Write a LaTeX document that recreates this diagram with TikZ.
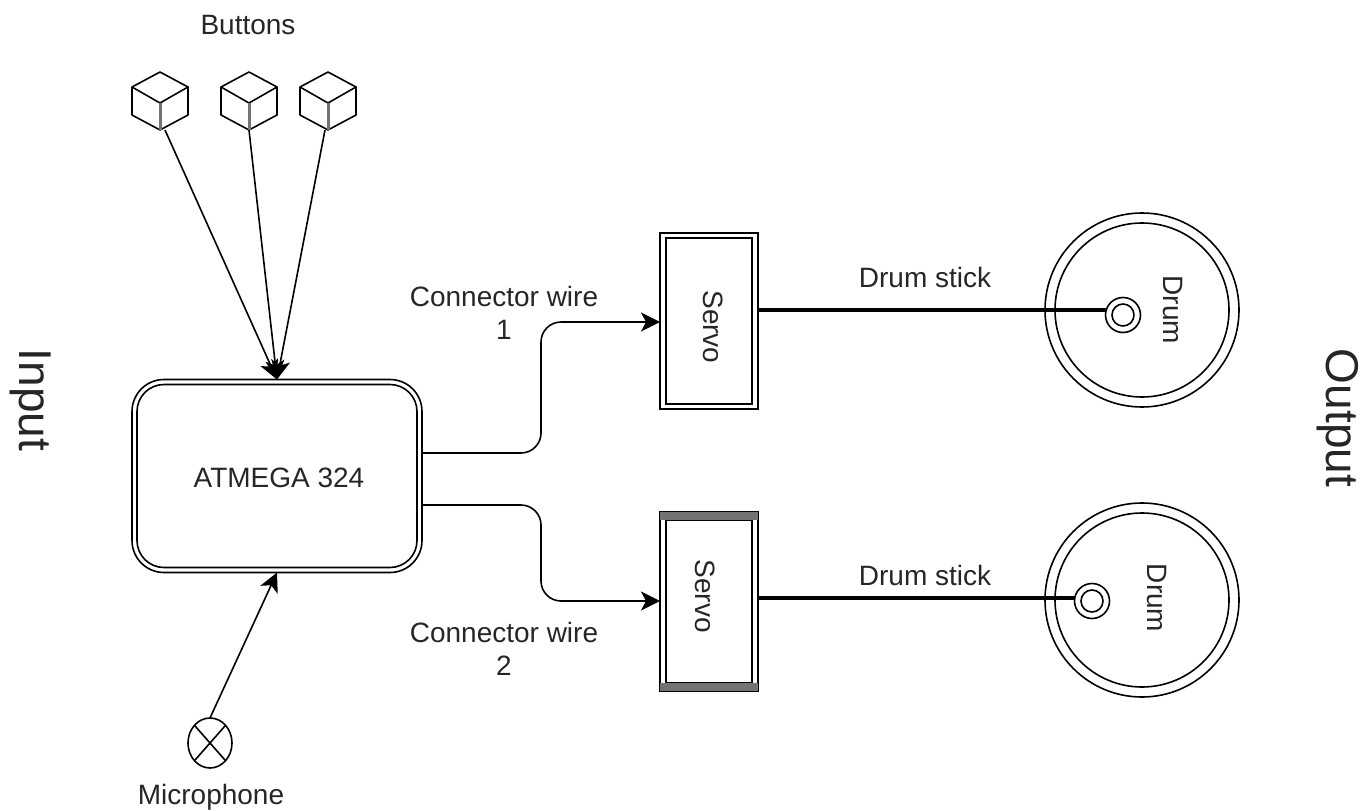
\documentclass[tikz,border=0pt]{standalone}
\usepackage{fontspec}
\setmainfont{Liberation Sans}
\usetikzlibrary{arrows.meta,shapes.geometric}
\tikzset{
  x=1pt,y=-1pt,
  every node/.style={inner sep=0pt,outer sep=0pt,text=black!85},
  ln/.style={draw=black,line width=1.6pt},
  wire/.style={ln,-{Stealth[length=19pt,width=19pt,inset=5pt]}},
  stick/.style={draw=black,line width=3.4pt},
  lbl/.style={font=\fontsize{28}{30}\selectfont,align=center},
  vlbl/.style={font=\fontsize{28}{30}\selectfont,rotate=-90},
  big/.style={font=\fontsize{46}{50}\selectfont,rotate=-90},
  cube/.style={minimum width=56pt,minimum height=58pt},
  ring/.style={circle,ln,fill=white},
}
\newcommand{\cubefaces}[1]{%
  \draw[ln,line join=round] (#1.north) -- ([yshift=-15pt]#1.north east) -- ([yshift=15pt]#1.south east) -- (#1.south) -- ([yshift=15pt]#1.south west) -- ([yshift=-15pt]#1.north west) -- cycle;
  \draw[ln,line join=round] ([yshift=-15pt]#1.north west) -- ([yshift=27pt]#1.south) -- ([yshift=-15pt]#1.north east);
  \draw[draw=black!55,line width=3pt] ([yshift=27pt]#1.south) -- (#1.south);
}
\begin{document}
\begin{tikzpicture}
\useasboundingbox (0,0) rectangle (1363,811);
% buttons
\node[cube] (b1) at (160,101) {};
\node[cube] (b2) at (249,101) {};
\node[cube] (b3) at (328,101) {};
\cubefaces{b1}\cubefaces{b2}\cubefaces{b3}
\node[lbl] (buttons) at (248,25) {Buttons};
% controller
\node[rounded corners=32pt,ln,minimum width=290pt,minimum height=193pt] (mcu) at (277,476) {};
\node[rounded corners=27pt,ln,minimum width=280pt,minimum height=183pt] (mcuin) at (277,476) {};
\node[lbl] (mculbl) at (279,478) {ATMEGA 324};
\draw[wire] ([xshift=5pt]b1.south) -- (mcu.north);
\draw[wire] (b2.south) -- (mcu.north);
\draw[wire] ([xshift=-3pt]b3.south) -- (mcu.north);
% microphone
\node[ellipse,ln,minimum width=44pt,minimum height=50pt] (mic) at (210,743) {};
\draw[ln] (mic.north west) -- (mic.south east);
\draw[ln] (mic.north east) -- (mic.south west);
\node[lbl] (miclbl) at (211,797) {Microphone};
\draw[wire] (mic.north) -- (mcu.south);
% servos
\node[ln,minimum width=98pt,minimum height=176pt] (s1) at (709,321) {};
\node[ln,minimum width=86pt,minimum height=166pt] (s1in) at (709,321) {};
\node[vlbl] (s1lbl) at (713,327) {Servo};
\node[ln,minimum width=98pt,minimum height=179pt] (s2) at (709,601.5) {};
\node[ln,minimum width=86pt,minimum height=163pt] (s2in) at (709,601.5) {};
\fill[black!55] (s2.north west) rectangle (s2.north east |- s2in.north);
\fill[black!55] (s2.south west |- s2in.south) rectangle (s2.south east);
\node[vlbl] (s2lbl) at (705,596) {Servo};
% wires
\coordinate (w1a) at (422,453);
\coordinate (w1b) at (660,322);
\coordinate (w2a) at (422,505);
\coordinate (w2b) at (660,601);
\draw[wire,rounded corners=20pt] (w1a) -- (541,453) -- (541,322) -- (w1b);
\draw[wire,rounded corners=20pt] (w2a) -- (541,505) -- (541,601) -- (w2b);
\node[lbl] (c1) at (504,313) {Connector wire\\[3pt]1};
\node[lbl] (c2) at (504,649) {Connector wire\\[3pt]2};
% drums
\node[ring,minimum size=194pt] (d1) at (1142,310) {};
\node[ring,minimum size=174pt] (d1in) at (1142,310) {};
\node[vlbl] (d1lbl) at (1173,310) {Drum};
\node[ring,minimum size=194pt] (d2) at (1142,600) {};
\node[ring,minimum size=174pt] (d2in) at (1142,600) {};
\node[vlbl] (d2lbl) at (1157,598) {Drum};
\node[ring,minimum size=35pt] (h1) at (1123,315) {};
\node[ring,minimum size=22pt] (h1in) at (1123,315) {};
\node[ring,minimum size=35pt] (h2) at (1092,601) {};
\node[ring,minimum size=22pt] (h2in) at (1092,601) {};
\coordinate (t1) at (758,310);
\coordinate (e1) at (1106,310);
\coordinate (t2) at (758,598);
\coordinate (e2) at (1075,598);
\draw[stick] (t1) -- (e1);
\draw[stick,line width=3.2pt] (t2) -- (e2);
\node[lbl] (ds1) at (925,277) {Drum stick};
\node[lbl] (ds2) at (925,575) {Drum stick};
% sides
\node[big] (inp) at (31,400) {Input};
\node[big] (outp) at (1338,418) {Output};
\end{tikzpicture}
\end{document}
